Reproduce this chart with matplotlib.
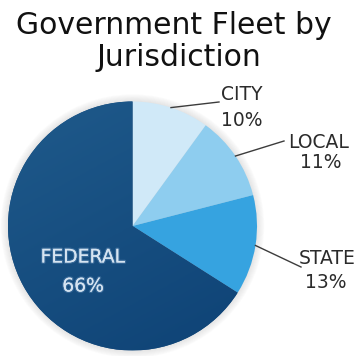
import matplotlib.pyplot as plt
import matplotlib.patheffects as pe
from matplotlib.patches import Circle
from matplotlib.colors import LinearSegmentedColormap
import numpy as np

# fleet share by jurisdiction (percent)
labels = ['CITY', 'LOCAL', 'STATE', 'FEDERAL']
shares = [10, 11, 13, 66]
colors = ['#d0e9f8', '#8ecdef', '#36a3e0', '#164c80']

W = H = 356
cx, cy, r = 132.5, 226, 124.5

fig = plt.figure(figsize=(3.56, 3.56), dpi=100)
ax = fig.add_axes([0, 0, 1, 1])

# soft halo behind the pie
for i in range(9):
    ax.add_patch(Circle((cx, cy), r + i * 0.9, color='#7a7a7a', alpha=0.025,
                        lw=0, zorder=0))

# y axis points down, so counterclock in data = clockwise on screen
wedges, _ = ax.pie(shares, colors=colors, startangle=-90, counterclock=True,
                   center=(cx, cy), radius=r,
                   wedgeprops=dict(linewidth=0, zorder=2))

# darker shading across the federal slice
grad_cmap = LinearSegmentedColormap.from_list('fed', ['#1f5a8b', '#0e4275'])
gx, gy = np.meshgrid(np.linspace(0, 1, 200), np.linspace(0, 1, 200))
grad = 0.35 * gx + 0.65 * gy
im = ax.imshow(grad, cmap=grad_cmap, extent=(cx - r, cx + r, cy + r, cy - r),
               zorder=3, interpolation='bilinear')
im.set_clip_path(wedges[3])

ax.set_xlim(0, W)
ax.set_ylim(H, 0)
ax.set_aspect('equal')
ax.axis('off')

# title
title_font = dict(family='DejaVu Sans', fontsize=21.5, color='#111111',
                  ha='center', va='baseline')
ax.text(174, 34, 'Government Fleet by', **title_font)
ax.text(179, 66, 'Jurisdiction', **title_font)

# outside labels with leader lines from the wedge mid-angle
name_pos = {'CITY': (242, 95), 'LOCAL': (319, 142), 'STATE': (327, 259)}
pct_pos = {'CITY': (242, 120), 'LOCAL': (321, 162), 'STATE': (326, 283)}
line_end = {'CITY': (219, 102), 'LOCAL': (284, 141), 'STATE': (301, 267)}

lab_font = dict(family='DejaVu Sans', fontsize=13.5, ha='center', va='center')
for w, name, v in zip(wedges, labels, shares):
    if name == 'FEDERAL':
        continue
    mid = np.deg2rad((w.theta1 + w.theta2) / 2)
    x0, y0 = cx + r * np.cos(mid), cy + r * np.sin(mid)
    x1, y1 = line_end[name]
    ax.plot([x0, x1], [y0, y1], color='#3c3c3c', lw=1.0, zorder=5)
    ax.text(*name_pos[name], name, color='#2b2b2b', zorder=6, **lab_font)
    ax.text(*pct_pos[name], f'{v}%', color='#2b2b2b', zorder=6, **lab_font)

# label inside the federal slice
glow = [pe.withStroke(linewidth=1.8, foreground=(0.7, 0.82, 0.95, 0.22))]
ax.text(83, 257, labels[3], color='#d6e4f1', zorder=6, path_effects=glow,
        **lab_font)
ax.text(83, 286, f'{shares[3]}%', color='#d6e4f1', zorder=6, path_effects=glow,
        **lab_font)

fig.savefig('out.png', dpi=100)
